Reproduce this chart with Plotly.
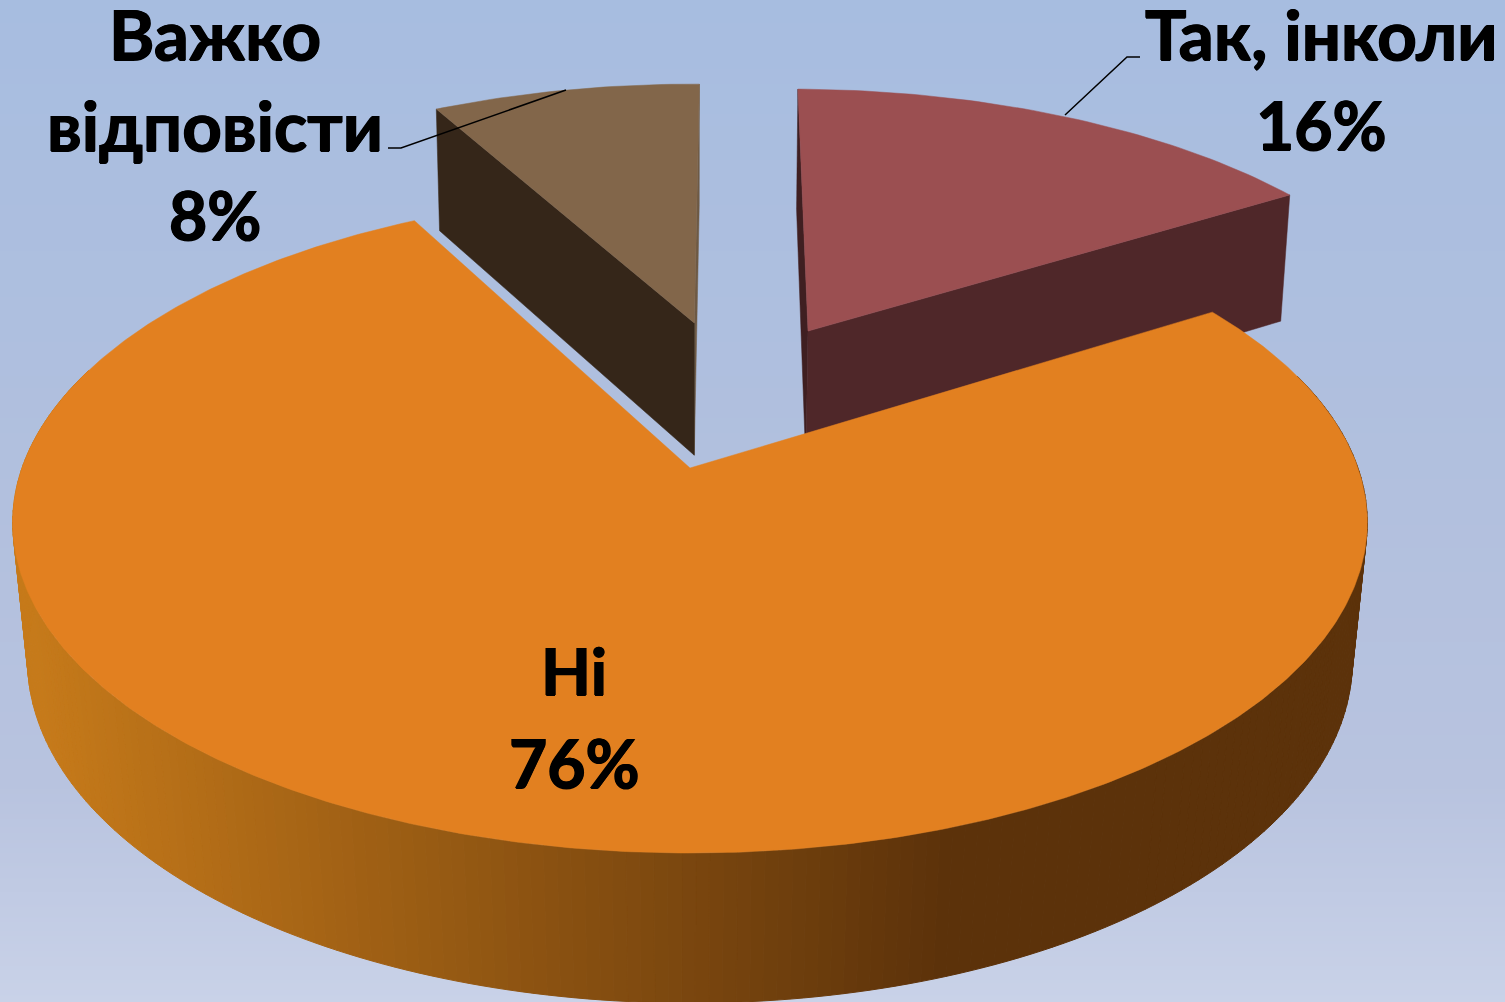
import math
import plotly.graph_objects as go

# Data
labels = ["Так, інколи", "Ні", "Важко відповісти"]
values = [16, 76, 8]
top_colors = ["#9B4F51", "#E28020", "#82664A"]
wall_colors = ["#4F2729", None, "#352619"]
inner_colors = ["#3F1F21", None, "#6E5A45"]
offsets = [(0.190, -0.458), (0.0, 0.0), (0.007, -0.487)]
radii = [1.005, 1.0, 1.0]
label_lines = [
    (["Так, інколи", "16%"], 1321, [33, 124], [69, 66]),
    (["Ні", "76%"], 574, [670, 762], [65, 66]),
    (["Важко", "відповісти", "8%"], 215, [33, 124, 214], [69, 69, 66]),
]
gradient_stops = [(0.0, "#A7BDE0"), (0.5, "#B2C0DE"), (0.78, "#B8C3DF"), (1.0, "#C9D2E8")]

# View of the disc
W, H = 1505, 1002
CX, CY, A, B, K = 690.0, 468.0, 668.0, 321.5, 0.165
ROT = 0.6


def project(X, Y):
    d = 1 - K * Y
    return CX + A * X / d, CY + B * Y / d


def lower(X, Y):
    x, y = project(X, Y)
    return CX + (x - CX) * (0.979 - 0.006 * Y), y + 138 + 12 * Y


def rim(deg, off, r):
    t = math.radians(deg + ROT)
    return off[0] + r * math.sin(t), off[1] - r * math.cos(t)


def poly(fig, pts, color, lw=0.5):
    xs = [p[0] for p in pts] + [pts[0][0]]
    ys = [p[1] for p in pts] + [pts[0][1]]
    fig.add_trace(go.Scatter(x=xs, y=ys, mode="lines", fill="toself", fillcolor=color,
                             line=dict(color=color, width=lw), hoverinfo="skip", showlegend=False))


def mix(c1, c2, f):
    f = max(0.0, min(1.0, f))
    return "rgb(%d,%d,%d)" % tuple(round(a + (b - a) * f) for a, b in zip(c1, c2))


fig = go.Figure()

# Background gradient
rows = list(range(0, H + 1, 6))
fig.add_trace(go.Heatmap(x=[0, W], y=rows, z=[[r / H, r / H] for r in rows],
                         colorscale=[[s, c] for s, c in gradient_stops], zmin=0, zmax=1,
                         showscale=False, hoverinfo="skip", zsmooth="best"))

# Slice angle spans
spans = []
start = 0.0
total = sum(values)
for v in values:
    end = start + 360.0 * v / total
    spans.append((start, end))
    start = end


def arc(i, step=1.0):
    a0, a1 = spans[i]
    n = int((a1 - a0) / step)
    return [rim(a0 + (a1 - a0) * j / n, offsets[i], radii[i]) for j in range(n + 1)]


# Exploded slices (index 0 and 2): walls then tops
for i in (0, 2):
    off = offsets[i]
    pts = arc(i)
    inner_edge = pts[0] if i == 0 else pts[-1]
    front_edge = pts[-1] if i == 0 else pts[0]
    poly(fig, [project(*inner_edge), project(*off), lower(*off), lower(*inner_edge)], inner_colors[i])
    poly(fig, [project(*front_edge), project(*off), lower(*off), lower(*front_edge)], wall_colors[i])
    poly(fig, [project(*off)] + [project(*p) for p in pts], top_colors[i])

# Main slice wall with a horizontal shading
LIGHT, DARK = (198, 122, 26), (92, 50, 10)
a = 72.0
while a < 288.0:
    p0, p1 = rim(a, (0, 0), 1.0), rim(a + 1.0, (0, 0), 1.0)
    xm = (project(*p0)[0] + project(*p1)[0]) / 2
    poly(fig, [project(*p0), project(*p1), lower(*p1), lower(*p0)], mix(LIGHT, DARK, (xm - 30) / 920), lw=1.0)
    a += 1.0

# Main slice top
poly(fig, [project(*offsets[1])] + [project(*p) for p in arc(1, 0.5)], top_colors[1])

# Leader lines
leaders = [([1065, 1127, 1140], [115, 57, 57]), ([388, 401, 566], [148, 148, 90])]
for lx, ly in leaders:
    fig.add_trace(go.Scatter(x=lx, y=ly, mode="lines", line=dict(color="#000000", width=1.5),
                             hoverinfo="skip", showlegend=False))

# Labels
for lines, x, ys, sizes in label_lines:
    for t, y, s in zip(lines, ys, sizes):
        fig.add_annotation(x=x, y=y, text="<b>%s</b>" % t, showarrow=False, xanchor="center", yanchor="middle",
                           font=dict(family="Lato", size=s, color="#000000",
                                     shadow="0.7px 0 0 #000, -0.7px 0 0 #000, 0 0.5px 0 #000"))

fig.update_layout(width=W, height=H, margin=dict(l=0, r=0, t=0, b=0), autosize=False,
                  paper_bgcolor="#B2C0DE", plot_bgcolor="#B2C0DE", showlegend=False,
                  xaxis=dict(range=[0, W], visible=False, fixedrange=True),
                  yaxis=dict(range=[H, 0], visible=False, fixedrange=True))
fig.write_html("out.html", config={"displayModeBar": False},
               post_script="document.body.style.margin='0';document.body.style.overflow='hidden';")
